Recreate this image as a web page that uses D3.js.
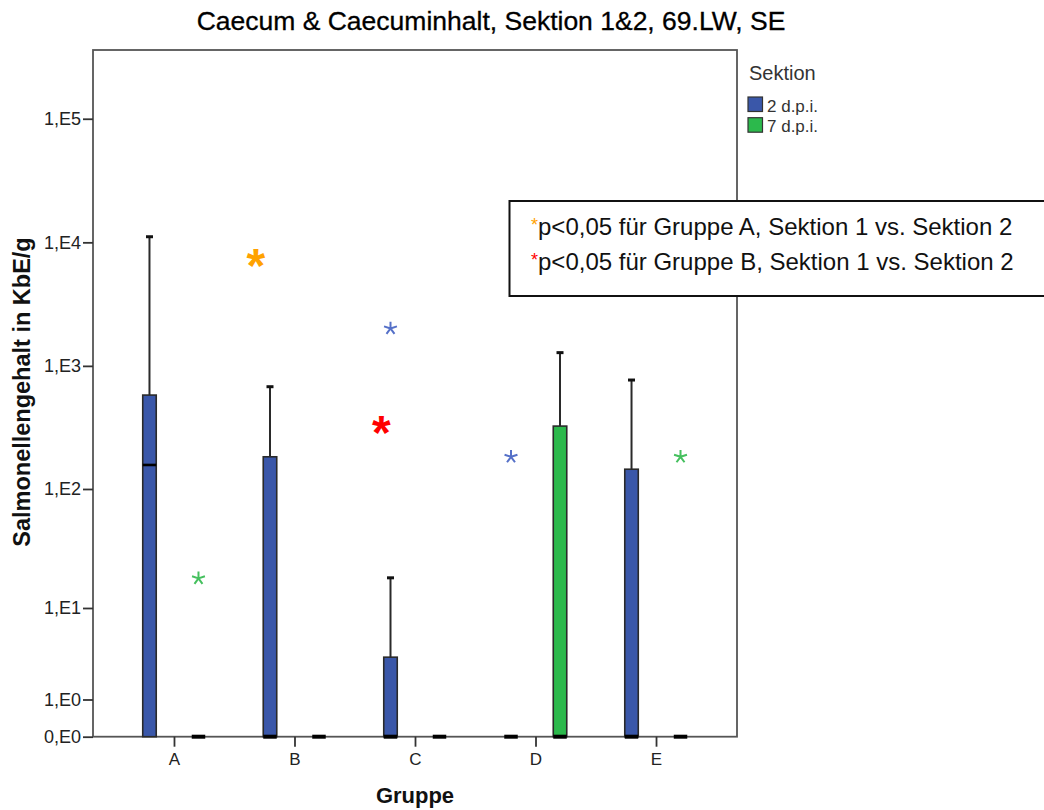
<!DOCTYPE html>
<html>
<head>
<meta charset="utf-8">
<script src="https://cdn.jsdelivr.net/npm/d3@7/dist/d3.min.js"></script>
<style>
  body { margin: 0; background: #fff; }
  svg { display: block; font-family: "Liberation Sans", Arial, sans-serif; }
</style>
</head>
<body>
<div id="chart"></div>
<script>
'use strict';

const groups = ['A', 'B', 'C', 'D', 'E'];
const sections = ['2 d.p.i.', '7 d.p.i.'];

// box values per group, section "2 d.p.i."
const q1Early = [0, 0, 0, 0, 0];
const medianEarly = [157, 0, 0, 0, 0];
const q3Early = [580, 183, 3.4, 0, 145];
const upperEarly = [11100, 678, 18.3, 0, 768];

// box values per group, section "7 d.p.i."
const q1Late = [0, 0, 0, 0, 0];
const medianLate = [0, 0, 0, 0, 0];
const q3Late = [0, 0, 0, 325, 0];
const upperLate = [0, 0, 0, 1280, 0];

// extreme values (SPSS star markers)
const extremeGroups = ['C', 'D', 'A', 'E'];
const extremeSections = ['2 d.p.i.', '2 d.p.i.', '7 d.p.i.', '7 d.p.i.'];
const extremeValues = [2010, 183, 18.1, 183];

const yTickValues = [0, 1, 10, 100, 1000, 10000, 100000];
const yTickLabels = ['0,E0', '1,E0', '1,E1', '1,E2', '1,E3', '1,E4', '1,E5'];

// significance marks: position on the group axis (index), value
const sigPositions = [0.68, 1.72];
const sigValues = [7500, 332];
const sigColors = ['#ffa200', '#ff0000'];

const noteLines = [
  'p<0,05 für Gruppe A, Sektion 1 vs. Sektion 2',
  'p<0,05 für Gruppe B, Sektion 1 vs. Sektion 2'
];

const width = 1044;
const height = 810;
const plot = { left: 93, top: 50, right: 737, bottom: 736.7 };
const colors = { '2 d.p.i.': '#3a57a9', '7 d.p.i.': '#2cb94c' };
const starColors = { '2 d.p.i.': '#5570c8', '7 d.p.i.': '#45c05e' };

const boxes = [];
groups.forEach(function (g, i) {
  boxes.push({ group: g, section: sections[0], q1: q1Early[i], median: medianEarly[i], q3: q3Early[i], upper: upperEarly[i] });
  boxes.push({ group: g, section: sections[1], q1: q1Late[i], median: medianLate[i], q3: q3Late[i], upper: upperLate[i] });
});
const extremes = extremeValues.map(function (v, i) {
  return { group: extremeGroups[i], section: extremeSections[i], value: v };
});

const svg = d3.select('#chart').append('svg')
  .attr('width', width)
  .attr('height', height);

const xScale = d3.scalePoint()
  .domain(groups)
  .range([plot.left, plot.right])
  .padding(0.672);

const offset = d3.scalePoint()
  .domain(sections)
  .range([-24.5, 24.5]);

const xIndex = d3.scaleLinear()
  .domain([0, groups.length - 1])
  .range([xScale(groups[0]), xScale(groups[groups.length - 1])]);

const yScale = d3.scaleSymlog()
  .constant(1)
  .domain([0, 360000])
  .range([plot.bottom, plot.top]);

const boxWidth = 13.5;

// title
svg.append('text')
  .attr('x', 491)
  .attr('y', 30)
  .attr('text-anchor', 'middle')
  .attr('font-size', '26.5px')
  .attr('fill', '#000')
  .attr('stroke', '#000')
  .attr('stroke-width', 0.3)
  .text('Caecum & Caecuminhalt, Sektion 1&2, 69.LW, SE');

// frame
svg.append('rect')
  .attr('x', plot.left)
  .attr('y', plot.top)
  .attr('width', plot.right - plot.left)
  .attr('height', plot.bottom - plot.top)
  .attr('fill', 'none')
  .attr('stroke', '#555')
  .attr('stroke-width', 1.8);

// y axis
const yAxis = d3.axisLeft(yScale)
  .tickValues(yTickValues)
  .tickFormat(function (d, i) { return yTickLabels[i]; })
  .tickSize(10)
  .tickPadding(2);

const yAxisG = svg.append('g')
  .attr('transform', `translate(${plot.left}, 0)`)
  .call(yAxis);
yAxisG.select('.domain').remove();
yAxisG.selectAll('line').attr('stroke', '#333').attr('stroke-width', 1.8);
yAxisG.selectAll('text')
  .attr('font-size', '18px')
  .attr('font-family', '"Liberation Sans", Arial, sans-serif')
  .attr('fill', '#222');

// x axis
const xAxis = d3.axisBottom(xScale)
  .tickSize(10)
  .tickPadding(6);

const xAxisG = svg.append('g')
  .attr('transform', `translate(0, ${plot.bottom})`)
  .call(xAxis);
xAxisG.select('.domain').remove();
xAxisG.selectAll('line').attr('stroke', '#333').attr('stroke-width', 1.8);
xAxisG.selectAll('text')
  .attr('font-size', '17px')
  .attr('font-family', '"Liberation Sans", Arial, sans-serif')
  .attr('fill', '#222');

// whiskers
const boxG = svg.append('g');
const withWhisker = boxes.filter(function (d) { return d.upper > d.q3; });

boxG.selectAll('.whisker')
  .data(withWhisker)
  .enter().append('line')
  .attr('class', 'whisker')
  .attr('x1', function (d) { return xScale(d.group) + offset(d.section); })
  .attr('x2', function (d) { return xScale(d.group) + offset(d.section); })
  .attr('y1', function (d) { return yScale(d.q3); })
  .attr('y2', function (d) { return yScale(d.upper); })
  .attr('stroke', '#2a2a2a')
  .attr('stroke-width', 2);

boxG.selectAll('.cap')
  .data(withWhisker)
  .enter().append('line')
  .attr('class', 'cap')
  .attr('x1', function (d) { return xScale(d.group) + offset(d.section) - 3.5; })
  .attr('x2', function (d) { return xScale(d.group) + offset(d.section) + 3.5; })
  .attr('y1', function (d) { return yScale(d.upper); })
  .attr('y2', function (d) { return yScale(d.upper); })
  .attr('stroke', '#111')
  .attr('stroke-width', 3);

// boxes
boxG.selectAll('.box')
  .data(boxes.filter(function (d) { return d.q3 > d.q1; }))
  .enter().append('rect')
  .attr('class', 'box')
  .attr('x', function (d) { return xScale(d.group) + offset(d.section) - boxWidth / 2; })
  .attr('y', function (d) { return yScale(d.q3); })
  .attr('width', boxWidth)
  .attr('height', function (d) { return yScale(d.q1) - yScale(d.q3); })
  .attr('fill', function (d) { return colors[d.section]; })
  .attr('stroke', '#2a2a2a')
  .attr('stroke-width', 1.6);

// medians
boxG.selectAll('.median')
  .data(boxes)
  .enter().append('line')
  .attr('class', 'median')
  .attr('x1', function (d) { return xScale(d.group) + offset(d.section) - boxWidth / 2; })
  .attr('x2', function (d) { return xScale(d.group) + offset(d.section) + boxWidth / 2; })
  .attr('y1', function (d) { return yScale(d.median); })
  .attr('y2', function (d) { return yScale(d.median); })
  .attr('stroke', '#000')
  .attr('stroke-width', function (d) { return d.median > 0 ? 2.6 : 4; });

// extreme markers, five-armed asterisk
const asterisk5 = {
  draw: function (context, size) {
    const r = Math.sqrt(size);
    for (let i = 0; i < 5; i++) {
      const a = -Math.PI / 2 + i * 2 * Math.PI / 5;
      context.moveTo(0, 0);
      context.lineTo(r * Math.cos(a), r * Math.sin(a));
    }
  }
};

svg.append('g').selectAll('.extreme')
  .data(extremes)
  .enter().append('path')
  .attr('class', 'extreme')
  .attr('d', d3.symbol().type(asterisk5).size(46))
  .attr('transform', function (d) {
    return `translate(${xScale(d.group) + offset(d.section)}, ${yScale(d.value)})`;
  })
  .attr('fill', 'none')
  .attr('stroke', function (d) { return starColors[d.section]; })
  .attr('stroke-width', 2);

// significance asterisks
const sigFont = 48;
svg.append('g').selectAll('.sig')
  .data(sigValues)
  .enter().append('text')
  .attr('class', 'sig')
  .attr('x', function (d, i) { return xIndex(sigPositions[i]); })
  .attr('y', function (d) { return yScale(d) + sigFont * 0.5; })
  .attr('text-anchor', 'middle')
  .attr('font-size', sigFont + 'px')
  .attr('font-weight', 'bold')
  .attr('fill', function (d, i) { return sigColors[i]; })
  .text('*');

// legend
const legend = svg.append('g').attr('transform', 'translate(748, 0)');
legend.append('text')
  .attr('x', 1)
  .attr('y', 80)
  .attr('font-size', '20px')
  .attr('fill', '#333')
  .text('Sektion');

const legendItems = legend.selectAll('.item')
  .data(sections)
  .enter().append('g')
  .attr('class', 'item')
  .attr('transform', function (d, i) { return `translate(0, ${97 + i * 20.7})`; });

legendItems.append('rect')
  .attr('width', 14.5)
  .attr('height', 14.5)
  .attr('fill', function (d) { return colors[d]; })
  .attr('stroke', '#333')
  .attr('stroke-width', 1.2);

legendItems.append('text')
  .attr('x', 19)
  .attr('y', 14.5)
  .attr('font-size', '17px')
  .attr('fill', '#333')
  .text(function (d) { return d; });

// note box
const note = svg.append('g');
note.append('rect')
  .attr('x', 509.5)
  .attr('y', 201)
  .attr('width', 600)
  .attr('height', 95)
  .attr('fill', '#fff')
  .attr('stroke', '#111')
  .attr('stroke-width', 2);

const noteText = note.selectAll('.note')
  .data(noteLines)
  .enter().append('text')
  .attr('class', 'note')
  .attr('x', 531)
  .attr('y', function (d, i) { return 235 + i * 34.5; })
  .attr('font-size', '24px')
  .attr('fill', '#111');

noteText.append('tspan')
  .attr('font-size', '18px')
  .attr('dy', -4)
  .attr('fill', function (d, i) { return sigColors[i]; })
  .text('*');

noteText.append('tspan')
  .attr('dy', 4)
  .text(function (d) { return d; });

// axis titles
svg.append('text')
  .attr('transform', 'translate(29.5, 392) rotate(-90)')
  .attr('text-anchor', 'middle')
  .attr('font-size', '23.5px')
  .attr('font-weight', 'bold')
  .attr('fill', '#111')
  .text('Salmonellengehalt in KbE/g');

svg.append('text')
  .attr('x', 415)
  .attr('y', 803)
  .attr('text-anchor', 'middle')
  .attr('font-size', '22px')
  .attr('font-weight', 'bold')
  .attr('fill', '#111')
  .text('Gruppe');
</script>
</body>
</html>
